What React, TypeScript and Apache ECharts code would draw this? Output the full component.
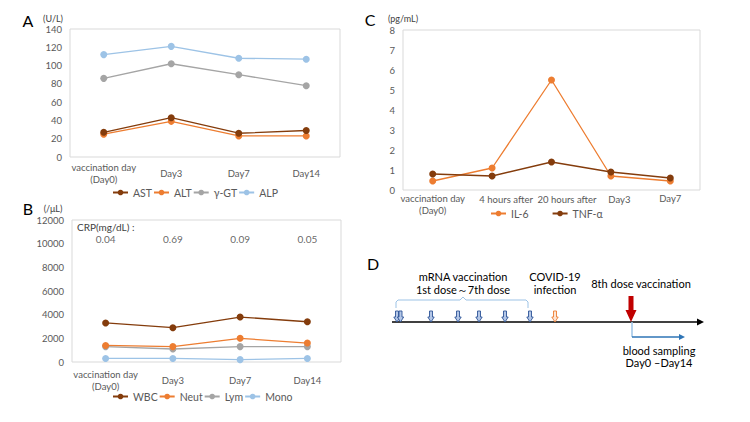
import React, { useEffect, useRef } from "react";
import * as echarts from "echarts";

// Panel A: liver enzymes (U/L)
const days = ["vaccination day\n(Day0)", "Day3", "Day7", "Day14"];
const ast = [27, 43, 26, 29];
const alt = [25, 39, 23, 23];
const ggt = [86, 102, 90, 78];
const alp = [112, 121, 108, 107];

// Panel B: blood cell counts (/μL) and CRP
const wbc = [3300, 2900, 3800, 3400];
const neut = [1400, 1300, 2000, 1600];
const lym = [1300, 1100, 1300, 1300];
const mono = [300, 300, 200, 300];
const crp = ["0.04", "0.69", "0.09", "0.05"];

// Panel C: cytokines (pg/mL)
const cytoTimes = ["vaccination day\n(Day0)", "4 hours after", "20 hours after", "Day3", "Day7"];
const il6 = [0.45, 1.1, 5.5, 0.7, 0.45];
const tnf = [0.8, 0.7, 1.4, 0.9, 0.6];

const FONT = "Lato, 'Noto Sans', sans-serif";
const LABEL = "#595959";
const BROWN = "#843c0c";
const ORANGE = "#ed7d31";
const GRAY = "#a5a5a5";
const LIGHTBLUE = "#9dc3e6";
const AXIS_FS = 9.5;

function lineSeries(name: string, data: number[], color: string, axis: number) {
  return {
    type: "line",
    name,
    data,
    xAxisIndex: axis,
    yAxisIndex: axis,
    symbol: "circle",
    symbolSize: 7,
    lineStyle: { color, width: 1.3 },
    itemStyle: { color },
    silent: true,
  };
}

function txt(text: string, x: number, y: number, size: number, align = "center", color = "#000") {
  return {
    type: "text",
    x,
    y,
    silent: true,
    style: { text, fill: color, fontSize: size, fontFamily: FONT, align, verticalAlign: "middle" },
  };
}

// Hollow down-pointing arrow used for the timeline doses
function smallArrow(cx: number, stroke: string, fill: string) {
  return {
    type: "polygon",
    silent: true,
    shape: {
      points: [
        [cx - 1.5, 311], [cx + 1.5, 311], [cx + 1.5, 317], [cx + 3.2, 317],
        [cx, 322], [cx - 3.2, 317], [cx - 1.5, 317],
      ],
    },
    style: { fill, stroke, lineWidth: 0.9 },
  };
}

const doseX = [397, 400.5, 431, 458, 479, 505, 530];

function valueAxis(grid: number, max: number, interval: number) {
  return {
    type: "value",
    gridIndex: grid,
    min: 0,
    max,
    interval,
    splitLine: { show: false },
    axisLine: { show: false },
    axisTick: { show: false },
    axisLabel: {
      color: LABEL,
      fontSize: AXIS_FS,
      fontFamily: FONT,
      margin: 8,
      formatter: (v: number) => String(v),
    },
  };
}

const labelText = { color: LABEL, fontSize: AXIS_FS, fontFamily: FONT };

// Day axes: single-line labels sit centred against the two-line first label
function dayAxis(grid: number, margin: number) {
  return {
    type: "category",
    gridIndex: grid,
    data: days,
    boundaryGap: true,
    axisLine: { show: false },
    axisTick: { show: false },
    axisLabel: {
      ...labelText,
      margin,
      interval: 0,
      lineHeight: 12,
      verticalAlign: "top",
      formatter: (v: string) => (v.indexOf("\n") >= 0 ? v : `{s|${v}}`),
      rich: { s: { ...labelText, lineHeight: 24 } },
    },
  };
}

function cytoAxis() {
  return {
    type: "category",
    gridIndex: 2,
    data: cytoTimes,
    boundaryGap: true,
    axisLine: { show: false },
    axisTick: { show: false },
    axisLabel: {
      ...labelText,
      margin: 2,
      interval: 0,
      lineHeight: 12,
      verticalAlign: "top",
      formatter: (v: string, i: number) => {
        const key = ["", "a", "b", "c", ""][i];
        return key ? `{${key}|${v}}` : v;
      },
      rich: {
        a: { ...labelText, lineHeight: 14, padding: [0, 0, 0, 28] },
        b: { ...labelText, lineHeight: 14, padding: [0, 0, 0, 31] },
        c: { ...labelText, lineHeight: 14, padding: [0, 0, 0, 17] },
      },
    },
  };
}

export default function App() {
  const ref = useRef<HTMLDivElement>(null);

  useEffect(() => {
    if (!ref.current) return;
    const chart = echarts.init(ref.current, null, { renderer: "svg" });

    const legendText = { color: LABEL, fontSize: 10.5, fontFamily: FONT };
    const legendBase = {
      padding: 0,
      itemWidth: 15,
      itemHeight: 7,
      textStyle: legendText,
      selectedMode: false,
    };

    chart.setOption({
      animation: false,
      backgroundColor: "#fff",
      grid: [
        { left: 70, top: 29, width: 270, height: 128, show: true, borderColor: "#d9d9d9", borderWidth: 1 },
        { left: 72, top: 220, width: 269, height: 142, show: true, borderColor: "#d9d9d9", borderWidth: 1 },
        { left: 403, top: 30, width: 297, height: 160, show: true, borderColor: "#d9d9d9", borderWidth: 1 },
      ],
      xAxis: [dayAxis(0, 4), dayAxis(1, 6), cytoAxis()],
      yAxis: [valueAxis(0, 140, 20), valueAxis(1, 12000, 2000), valueAxis(2, 8, 1)],
      legend: [
        { ...legendBase, data: ["AST", "ALT", "γ-GT", "ALP"], left: 112, top: 187, itemGap: 1 },
        { ...legendBase, data: ["WBC", "Neut", "Lym", "Mono"], left: 112, top: 391, itemGap: 1 },
        { ...legendBase, data: ["IL-6", "TNF-α"], left: 490, top: 208, itemGap: 23 },
      ],
      series: [
        lineSeries("ALP", alp, LIGHTBLUE, 0),
        lineSeries("γ-GT", ggt, GRAY, 0),
        lineSeries("ALT", alt, ORANGE, 0),
        lineSeries("AST", ast, BROWN, 0),
        lineSeries("Mono", mono, LIGHTBLUE, 1),
        lineSeries("Lym", lym, GRAY, 1),
        lineSeries("Neut", neut, ORANGE, 1),
        lineSeries("WBC", wbc, BROWN, 1),
        {
          type: "scatter",
          name: "CRP",
          xAxisIndex: 1,
          yAxisIndex: 1,
          data: crp.map((_, i) => [i, 10400]),
          symbolSize: 1,
          itemStyle: { color: "rgba(0,0,0,0)" },
          silent: true,
          label: {
            show: true,
            position: "inside",
            formatter: (p: any) => crp[p.dataIndex],
            color: "#404040",
            fontSize: 10,
            fontFamily: FONT,
          },
        },
        lineSeries("IL-6", il6, ORANGE, 2),
        lineSeries("TNF-α", tnf, BROWN, 2),
      ],
      graphic: [
        // panel letters and units
        txt("A", 28, 20, 16),
        txt("(U/L)", 53, 18, 9, "center", "#404040"),
        txt("B", 28, 208, 16),
        txt("(/μL)", 53, 208, 9, "center", "#404040"),
        txt("CRP(mg/dL) :", 77, 227, 10, "left", "#404040"),
        txt("C", 370, 19, 16),
        txt("(pg/mL)", 403, 18, 9, "center", "#404040"),
        txt("D", 373, 263, 16),

        // timeline axis
        { type: "line", silent: true, shape: { x1: 392, y1: 322, x2: 700, y2: 322 }, style: { stroke: "#000", lineWidth: 1.3 } },
        { type: "polygon", silent: true, shape: { points: [[704, 322], [697, 318.5], [697, 325.5]] }, style: { fill: "#000" } },

        // bracket over doses 1-7
        {
          type: "polyline",
          silent: true,
          shape: {
            points: [[396, 308], [396, 302], [398, 300], [460, 300], [463, 297], [466, 300], [526, 300], [528, 302], [528, 308]],
          },
          style: { stroke: LIGHTBLUE, lineWidth: 1, fill: null },
        },
        txt("mRNA vaccination", 463, 276, 11),
        txt("1st dose～7th dose", 463, 289, 11),
        ...doseX.map((x) => smallArrow(x, "#2f5597", "#b4c7e7")),

        // infection
        smallArrow(555, ORANGE, "#fbe5d6"),
        txt("COVID-19", 555, 276, 11),
        txt("infection", 555, 289, 11),

        // 8th dose
        {
          type: "polygon",
          silent: true,
          shape: { points: [[628.5, 296], [633.5, 296], [633.5, 310], [636.5, 310], [631, 322], [625.5, 310], [628.5, 310]] },
          style: { fill: "#c00000" },
        },
        txt("8th dose vaccination", 641, 283, 11),

        // blood sampling window
        { type: "line", silent: true, shape: { x1: 632, y1: 322, x2: 632, y2: 337 }, style: { stroke: LIGHTBLUE, lineWidth: 1.5 } },
        { type: "line", silent: true, shape: { x1: 632, y1: 337, x2: 680, y2: 337 }, style: { stroke: "#2e75b6", lineWidth: 1.5 } },
        { type: "polygon", silent: true, shape: { points: [[685, 337], [679, 334], [679, 340]] }, style: { fill: "#2e75b6" } },
        txt("blood sampling", 659, 350, 11),
        txt("Day0 –Day14", 659, 362, 11),
      ],
    });

    return () => chart.dispose();
  }, []);

  return (
    <div
      ref={ref}
      style={{ position: "fixed", left: 0, top: 0, width: 750, height: 422, background: "#fff" }}
    />
  );
}
